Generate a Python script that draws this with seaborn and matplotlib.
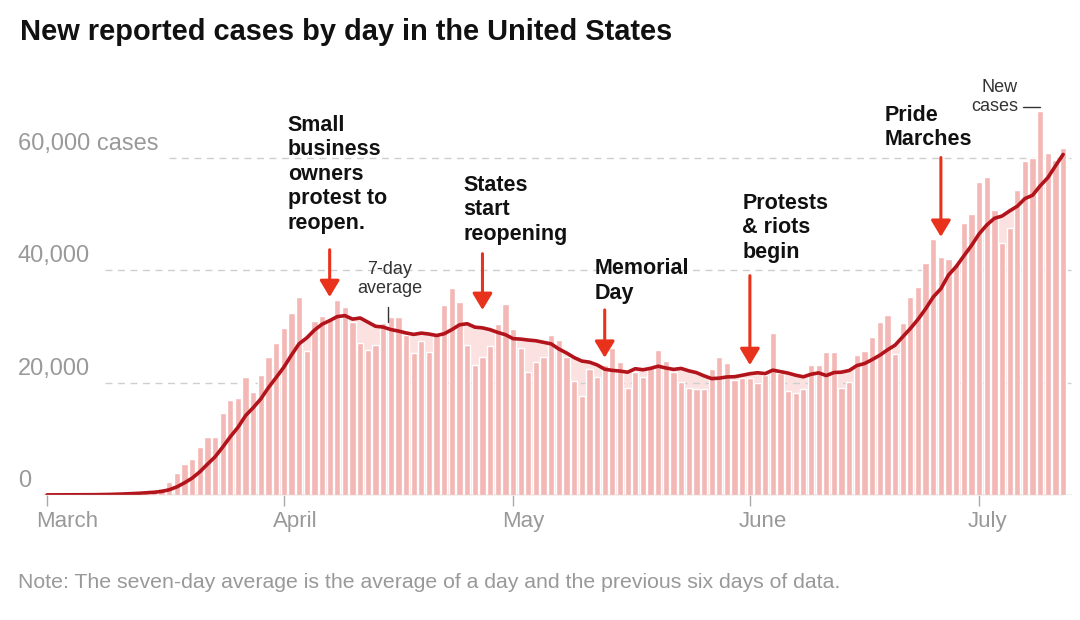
import matplotlib
matplotlib.use("Agg")
import matplotlib.pyplot as plt
from matplotlib import font_manager
import seaborn as sns
import pandas as pd

# daily new cases (Mar 1 - Jul 12, 2020)
march = [20, 25, 30, 40, 60, 80, 110, 140, 200, 270, 380, 450, 560, 700, 850,
         1200, 2370, 3970, 5510, 6400, 8480, 10370, 10370, 14520, 16890, 17190,
         21040, 18370, 21340, 24480, 26970]
april = [29640, 32300, 35150, 25660, 30940, 31830, 31500, 34670, 33480, 30810,
         27080, 25780, 26670, 30520, 31590, 31590, 28450, 25300, 27380, 25480,
         28740, 33780, 36750, 34370, 26670, 23110, 24590, 26490, 30340, 33960]
may = [29460, 26080, 21930, 23700, 24480, 28450, 27560, 24590, 20330, 17600,
       22350, 21040, 23110, 26080, 23700, 18970, 21930, 21040, 22810, 25780,
       23880, 21930, 20150, 18970, 18790, 18790, 22350, 24480, 23410, 20450, 20740]
june = [20740, 19970, 21340, 28740, 21640, 18550, 18080, 18790, 23110, 23110,
        25370, 25370, 19080, 20150, 24890, 25600, 28040, 30810, 32000, 25000,
        30520, 35150, 37040, 41190, 45520, 42370, 42000, 41000, 48400, 49960]
july = [55700, 56590, 50670, 44860, 47420, 54230, 59440, 59860, 68330, 60860,
        59500, 61640]

month_labels = ["March", "April", "May", "June", "July"]
y_levels = [0, 20000, 40000, 60000]
y_labels = ["0", "20,000", "40,000", "60,000 cases"]

event_labels = ["Small\nbusiness\nowners\nprotest to\nreopen.",
                "States\nstart\nreopening",
                "Memorial\nDay",
                "Protests\n& riots\nbegin",
                "Pride\nMarches"]
event_dates = ["2020-04-07", "2020-04-27", "2020-05-13", "2020-06-01", "2020-06-26"]

# layout for the event notes: (text dx in days, text top, arrow tail, arrow tip)
event_layout = [(-5.5, 67600, 43600, 35200),
                (-2.5, 56900, 42900, 32900),
                (-1.3, 42100, 32900, 24400),
                (-1.0, 53700, 39000, 23100),
                (-7.3, 69400, 60000, 45900)]

cases = march + april + may + june + july
dates = pd.date_range("2020-03-01", periods=len(cases), freq="D")
df = pd.DataFrame({"date": dates, "cases": cases})
df["day"] = range(len(df))
df["avg"] = df["cases"].rolling(7, min_periods=1).mean()

BAR = "#f3b7b5"
FILL = "#fbe2e1"
LINE = "#b3141c"
ARROW = "#e8321c"
GRAY = "#999999"

sns.set_style("white")
names = {f.name for f in font_manager.fontManager.ttflist}
narrow = "Liberation Sans Narrow" if "Liberation Sans Narrow" in names else None
plt.rcParams["font.family"] = ["Liberation Sans", "DejaVu Sans"]

fig = plt.figure(figsize=(10.8, 6.2), dpi=100)
ax = fig.add_axes([42 / 1080, 125 / 620, 1030 / 1080, 393.7 / 620])

ax.fill_between(df["day"], df["avg"], color=FILL, lw=0, zorder=1)
for lvl in y_levels[1:]:
    start = 16 if lvl == 60000 else 7.6
    ax.hlines(lvl, start, 134, color="#cfcfcf", lw=1, linestyles=(0, (5, 4)), zorder=2)

sns.barplot(data=df, x="day", y="cases", color=BAR, saturation=1, width=0.82,
            native_scale=True, errorbar=None, ax=ax)
for p in ax.patches:
    p.set_zorder(3)
sns.lineplot(data=df, x="day", y="avg", color=LINE, lw=2.6, ax=ax, zorder=4)

ax.axhline(0, color="#bbbbbb", lw=1, zorder=5)
ax.set_xlim(-0.65, 134.16)
ax.set_ylim(0, 70000)
sns.despine(ax=ax, left=True, bottom=True)
ax.set_xlabel("")
ax.set_ylabel("")
ax.set_yticks([])

month_pos = df.loc[df["date"].dt.day == 1, "day"].tolist()
ax.set_xticks(month_pos)
ax.set_xticklabels([])
ax.tick_params(axis="x", bottom=True, length=8, width=1, color="#aaaaaa", direction="out")
for pos, lab in zip(month_pos, month_labels):
    ax.annotate(lab, xy=(pos, 0), xytext=(-11, -16), textcoords="offset pixels",
                ha="left", va="top", fontsize=16, color=GRAY, annotation_clip=False)

for lvl, lab in zip(y_levels, y_labels):
    ax.annotate(lab, xy=(-3.8, lvl), xytext=(0, 8), textcoords="offset pixels",
                ha="left", va="baseline", fontsize=17, color=GRAY, annotation_clip=False)

for lab, d, (dx, top, tail, tip) in zip(event_labels, event_dates, event_layout):
    x = df.loc[df["date"] == pd.Timestamp(d), "day"].iloc[0]
    ax.text(x + dx, top, lab, ha="left", va="top", fontsize=15.5, fontweight="bold",
            color="#111111", linespacing=1.22, clip_on=False, zorder=6)
    ax.annotate("", xy=(x, tip), xytext=(x, tail),
                arrowprops=dict(arrowstyle="-|>,head_length=0.5,head_width=0.3",
                                color=ARROW, lw=2.2, shrinkA=0, shrinkB=0,
                                mutation_scale=20),
                zorder=6)

# series labels
ax.text(44.9, 41600, "7-day\naverage", ha="center", va="top", fontsize=13,
        color="#333333", linespacing=1.15, zorder=6)
ax.plot([44.6, 44.6], [33400, 30800], color="#333333", lw=1, zorder=6)
ax.text(127.1, 73900, "New\ncases", ha="right", va="top", fontsize=13,
        color="#333333", linespacing=1.15, clip_on=False, zorder=6)
ax.plot([127.7, 130.0], [68900, 68900], color="#333333", lw=1, clip_on=False, zorder=6)

if narrow:
    title_font, title_size = [narrow, "DejaVu Sans"], 23.5
else:
    title_font, title_size = ["Liberation Sans", "DejaVu Sans"], 20.9
fig.text(20 / 1080, 1 - 32 / 620, "New reported cases by day in the United States",
         family=title_font, fontsize=title_size, fontweight="bold", color="#111111",
         va="center", ha="left")
fig.text(18 / 1080, 1 - 583 / 620,
         "Note: The seven-day average is the average of a day and the previous six days of data.",
         fontsize=15.3, color=GRAY, va="center", ha="left")

fig.savefig("out.png", dpi=100)
